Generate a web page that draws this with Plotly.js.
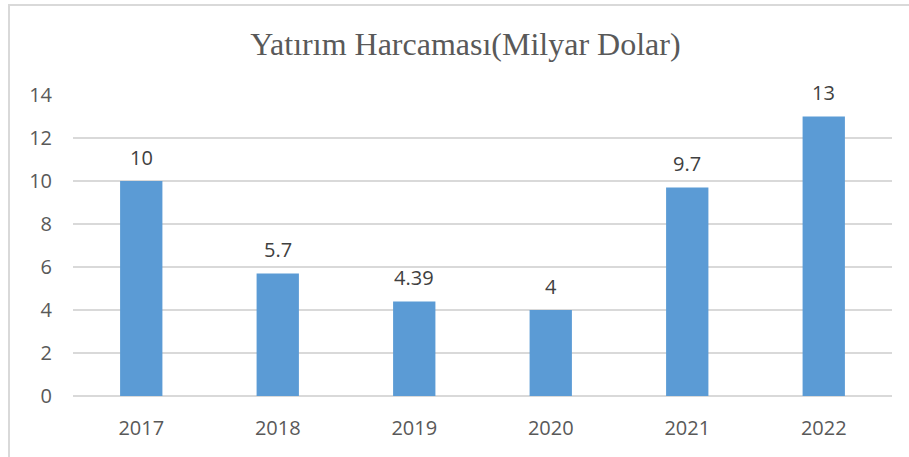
<!DOCTYPE html>
<html>
<head>
<meta charset="utf-8">
<script src="https://cdn.plot.ly/plotly-3.0.1.min.js"></script>
<style>
html,body{margin:0;padding:0;background:#fff;overflow:hidden;}
#wrap{position:relative;width:909px;height:457px;}
#chart{position:absolute;left:0;top:0;width:909px;height:457px;}
#frame{position:absolute;left:8px;top:4px;width:920px;height:470px;border-left:2px solid #D9D9D9;border-top:2px solid #D9D9D9;pointer-events:none;}
</style>
</head>
<body>
<div id="wrap"><div id="chart"></div><div id="frame"></div></div>
<script>
const years = ['2017','2018','2019','2020','2021','2022'];
const values = [10, 5.7, 4.39, 4, 9.7, 13];
const labels = ['10','5.7','4.39','4','9.7','13'];
const yTicks = [0,2,4,6,8,10,12,14];

const FONT = 'Open Sans, sans-serif';

const trace = {
  type: 'bar',
  x: years,
  y: values,
  marker: {color: '#5B9BD5'},
  hoverinfo: 'none'
};

// category index positions for the labels
const annotations = years.map((yr, i) => ({
  x: i, y: values[i], xref: 'x', yref: 'y',
  text: labels[i], showarrow: false,
  yshift: 24, yanchor: 'middle',
  font: {family: FONT, size: 20, color: '#404040'}
}));

const layout = {
  width: 909, height: 457,
  margin: {l: 73, r: 17, t: 95, b: 61},
  paper_bgcolor: 'rgba(0,0,0,0)',
  plot_bgcolor: 'rgba(0,0,0,0)',
  bargap: 0.69,
  showlegend: false,
  annotations: annotations,
  title: {
    text: 'Yatırım Harcaması(Milyar Dolar)',
    font: {family: 'Liberation Serif, serif', size: 32, color: '#595959'},
    x: 0.512, xanchor: 'center', y: 0.905, yanchor: 'middle'
  },
  xaxis: {
    type: 'category',
    range: [-0.5, years.length - 0.5],
    tickfont: {family: FONT, size: 20, color: '#595959'},
    showgrid: false, zeroline: false, showline: false,
    ticks: '', ticklen: 0, ticklabelstandoff: 18, automargin: false
  },
  yaxis: {
    range: [0, 14],
    tickvals: yTicks,
    ticktext: yTicks.map(String),
    tickfont: {family: FONT, size: 20, color: '#595959'},
    showgrid: true, gridcolor: '#D9D9D9', gridwidth: 2,
    zeroline: true, zerolinecolor: '#D9D9D9', zerolinewidth: 2,
    showline: false, ticks: '', ticklabelstandoff: 20, automargin: false
  }
};

Plotly.newPlot('chart', [trace], layout, {displayModeBar: false, staticPlot: true});
</script>
</body>
</html>
